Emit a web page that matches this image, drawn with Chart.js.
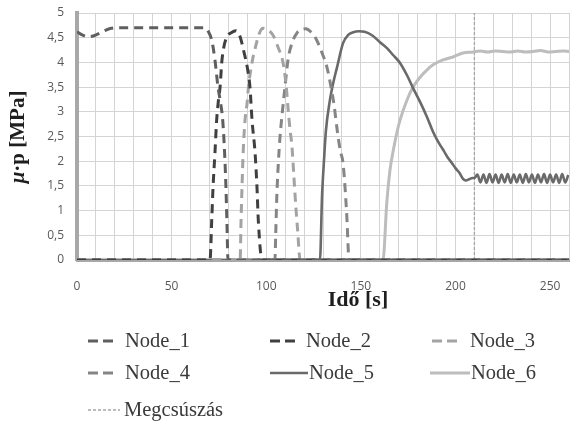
<!DOCTYPE html>
<html><head><meta charset="utf-8">
<script src="https://cdn.jsdelivr.net/npm/chart.js@4.4.1/dist/chart.umd.min.js"></script>
<style>html,body{margin:0;padding:0;background:#fff;}#wrap{position:relative;width:570px;height:421px;}</style>
</head><body><div id="wrap"><canvas id="c" width="570" height="421"></canvas></div>
<script>
// ---- data (time in s, value in MPa) ----
const seriesNames = ['Node_1','Node_2','Node_3','Node_4','Node_5','Node_6'];
const slipName = 'Megcsúszás';
const slipTime = 210;
const xTitle = 'Idő [s]';
const yTitleMu = 'μ';
const yTitleRest = '·p [MPa]';
const xTickLabels = [0, 50, 100, 150, 200, 250];
const yTickLabels = [0, 0.5, 1, 1.5, 2, 2.5, 3, 3.5, 4, 4.5, 5];

const node1T = [0, 3, 6, 9, 12, 15, 18, 22, 67.5, 69.5, 71.2, 72.9, 74.5, 75.8, 77.0, 78.0, 78.7, 79.2, 79.8, 260];
const node1V = [4.62, 4.55, 4.52, 4.54, 4.59, 4.65, 4.69, 4.70, 4.70, 4.62, 4.45, 4.05, 3.5, 3.2, 2.83, 2.17, 1.48, 0.81, 0, 0];

const node2T = [0, 70.3, 71.2, 71.9, 72.9, 73.8, 74.6, 75.6, 76.5, 77.3, 79.1, 81.5, 84.0, 86.2, 88.0, 90.2, 91.4, 92.5, 94.1, 95.1, 95.8, 97.8, 260];
const node2V = [0, 0, 0.81, 1.48, 2.17, 2.83, 3.18, 3.5, 4.0, 4.25, 4.51, 4.6, 4.64, 4.52, 4.25, 3.85, 3.5, 2.83, 2.17, 1.48, 0.81, 0, 0];

const node3T = [0, 86.2, 86.7, 87.2, 87.8, 88.8, 89.9, 90.6, 92.5, 94.1, 96.5, 98.3, 101, 103.6, 106.2, 108.9, 110.6, 111.6, 112.6, 113.6, 114.6, 115.6, 116.6, 117.9, 260];
const node3V = [0, 0, 0.81, 1.48, 2.17, 2.83, 3.18, 3.5, 4.0, 4.28, 4.6, 4.69, 4.65, 4.55, 4.31, 3.99, 3.5, 3.04, 2.63, 2.3, 1.7, 1.1, 0.6, 0, 0];

const node4T = [0, 104.6, 105.0, 105.6, 106.4, 107.3, 108.4, 109.9, 111.5, 113.6, 116.3, 118.5, 121, 123.5, 126.3, 129.5, 132.1, 134, 135.8, 137.6, 139.2, 140.6, 142.5, 143.8, 260];
const node4V = [0, 0, 0.5, 1.3, 1.96, 2.5, 2.95, 3.5, 4.05, 4.39, 4.6, 4.66, 4.68, 4.62, 4.48, 4.19, 3.9, 3.55, 3.15, 2.6, 2.2, 1.96, 0.95, 0, 0];

const node5T = [0, 128.4, 129.5, 130.5, 131.5, 133.5, 135.5, 137.4, 140.6, 143.2, 146, 149, 152, 155.9, 160.1, 163.8, 167, 170.7, 174.4, 177.6, 181.3, 185, 188.2, 190.3, 192, 194, 196, 198, 200, 202, 204, 205.5, 207.5, 209,
  210.0, 211.6, 213.2, 214.8, 216.4, 218.0, 219.6, 221.2, 222.8, 224.4, 226.0, 227.6, 229.2, 230.8, 232.4, 234.0, 235.6, 237.2, 238.8, 240.4, 242.0, 243.6, 245.2, 246.8, 248.4, 250.0, 251.6, 253.2, 254.8, 256.4, 258.0, 259.6];
const node5V = [0, 0, 1.3, 2.0, 2.6, 3.2, 3.6, 3.9, 4.39, 4.55, 4.61, 4.63, 4.62, 4.55, 4.41, 4.29, 4.15, 3.99, 3.74, 3.48, 3.2, 2.89, 2.59, 2.43, 2.32, 2.2, 2.07, 1.97, 1.86, 1.77, 1.64, 1.61, 1.64, 1.66,
  1.66, 1.73, 1.57, 1.73, 1.56, 1.74, 1.57, 1.73, 1.56, 1.73, 1.57, 1.74, 1.56, 1.73, 1.57, 1.73, 1.56, 1.74, 1.57, 1.73, 1.56, 1.73, 1.57, 1.74, 1.56, 1.73, 1.57, 1.73, 1.56, 1.74, 1.57, 1.72];

const node6T = [0, 161.7, 163.7, 165.4, 167.2, 169.0, 170.7, 174.4, 177.6, 181.3, 185, 188.2, 193.4, 198.7, 204, 209.3, 213, 217, 221, 225, 229, 233, 237, 241, 245, 249, 253, 257, 260];
const node6V = [0, 0, 1.15, 1.82, 2.23, 2.57, 2.83, 3.24, 3.5, 3.7, 3.85, 3.95, 4.05, 4.11, 4.19, 4.21, 4.23, 4.21, 4.23, 4.22, 4.21, 4.23, 4.21, 4.22, 4.24, 4.21, 4.22, 4.23, 4.22];

const slipV = [0, 5];

// ---- styles ----
const styles = [
  {color:'#5f5f5f', width:3, dash:[9,6]},
  {color:'#404040', width:3, dash:[9,6]},
  {color:'#a3a3a3', width:3, dash:[9,6]},
  {color:'#858585', width:3, dash:[9,6]},
  {color:'#6a6a6a', width:2.6, dash:[]},
  {color:'#bdbdbd', width:3, dash:[]}
];
const slipStyle = {color:'#a6a6a6', width:1.3, dash:[3,2]};

function pts(T, V){ return T.map((t,i)=>({x:t, y:V[i]})); }
const allT = [node1T,node2T,node3T,node4T,node5T,node6T];
const allV = [node1V,node2V,node3V,node4V,node5V,node6V];

const datasets = seriesNames.map((n,i)=>({
  label:n, data:pts(allT[i], allV[i]), showLine:true, pointRadius:0,
  borderColor:styles[i].color, borderWidth:styles[i].width, borderDash:styles[i].dash,
  cubicInterpolationMode:'monotone', fill:false, order:i
}));
datasets.push({label:slipName, data:pts([slipTime, slipTime], slipV), showLine:true, pointRadius:0,
  borderColor:slipStyle.color, borderWidth:slipStyle.width, borderDash:slipStyle.dash, order:10});

const legendLayout = [
  {i:0, x0:88, x1:113, tx:125, y:341},
  {i:1, x0:270, x1:295, tx:306, y:341},
  {i:2, x0:432, x1:460, tx:470, y:341},
  {i:3, x0:88, x1:113, tx:125, y:373},
  {i:4, x0:270, x1:308, tx:309, y:373},
  {i:5, x0:430, x1:470, tx:471, y:373},
  {i:6, x0:88, x1:120, tx:124, y:410}
];

const textPlugin = {
  id:'textPlugin',
  afterDraw(chart){
    const ctx = chart.ctx;
    ctx.save();
    ctx.fillStyle = '#1e1e1e';
    ctx.font = 'bold 22px "Liberation Serif"';
    ctx.textAlign = 'center'; ctx.textBaseline = 'middle';
    ctx.fillText(xTitle, 358, 300);
    // y title
    ctx.save();
    ctx.translate(19, 137); ctx.rotate(-Math.PI/2);
    const f1 = 'italic bold 21px "Liberation Serif"', f2 = 'bold 21px "Liberation Serif"';
    ctx.font = f1; const w1 = ctx.measureText(yTitleMu).width;
    ctx.font = f2; const w2 = ctx.measureText(yTitleRest).width;
    const start = -(w1+w2)/2;
    ctx.textAlign = 'left';
    ctx.font = f1; ctx.fillText(yTitleMu, start, 0);
    ctx.font = f2; ctx.fillText(yTitleRest, start + w1, 0);
    ctx.restore();
    // legend
    ctx.textAlign = 'left'; ctx.textBaseline = 'middle';
    legendLayout.forEach(L=>{
      const st = L.i < 6 ? styles[L.i] : slipStyle;
      const name = L.i < 6 ? seriesNames[L.i] : slipName;
      ctx.beginPath();
      ctx.strokeStyle = st.color; ctx.lineWidth = st.width;
      ctx.setLineDash(L.i < 4 ? [10,5] : st.dash);
      ctx.moveTo(L.x0, L.y); ctx.lineTo(L.x1, L.y); ctx.stroke();
      ctx.setLineDash([]);
      ctx.fillStyle = '#3a3a3a';
      ctx.font = '20.5px "Liberation Serif"';
      ctx.fillText(name, L.tx, L.y + 1);
    });
    ctx.restore();
  }
};

new Chart(document.getElementById('c'), {
  type:'scatter',
  data:{datasets},
  options:{
    responsive:false, animation:false,
    layout:{padding:{left:0, right:1, top:13, bottom:0}},
    plugins:{legend:{display:false}, tooltip:{enabled:false}},
    scales:{
      x:{type:'linear', min:0, max:260,
        afterFit(s){ s.height = 161; s.paddingLeft = 0; s.paddingRight = 0; },
        grid:{color:'#d4d4d4', lineWidth:1, drawTicks:false},
        border:{display:true, color:'#a8a8a8', width:3},
        ticks:{stepSize:10, autoSkip:false, maxRotation:0, padding:19, color:'#595959',
          font:{family:'"Open Sans"', size:12},
          callback:(v)=> xTickLabels.includes(v) ? String(v) : ''}
      },
      y:{type:'linear', min:0, max:5,
        afterFit(s){ s.width = 77; s.paddingTop = 0; s.paddingBottom = 0; },
        grid:{color:'#d4d4d4', lineWidth:1, drawTicks:false},
        border:{display:true, color:'#a8a8a8', width:4},
        ticks:{stepSize:0.5, padding:13, color:'#595959',
          font:{family:'"Open Sans"', size:12},
          callback:(v)=> yTickLabels.includes(v) ? String(v).replace('.', ',') : ''}
      }
    }
  },
  plugins:[textPlugin]
});
</script>
</body></html>
